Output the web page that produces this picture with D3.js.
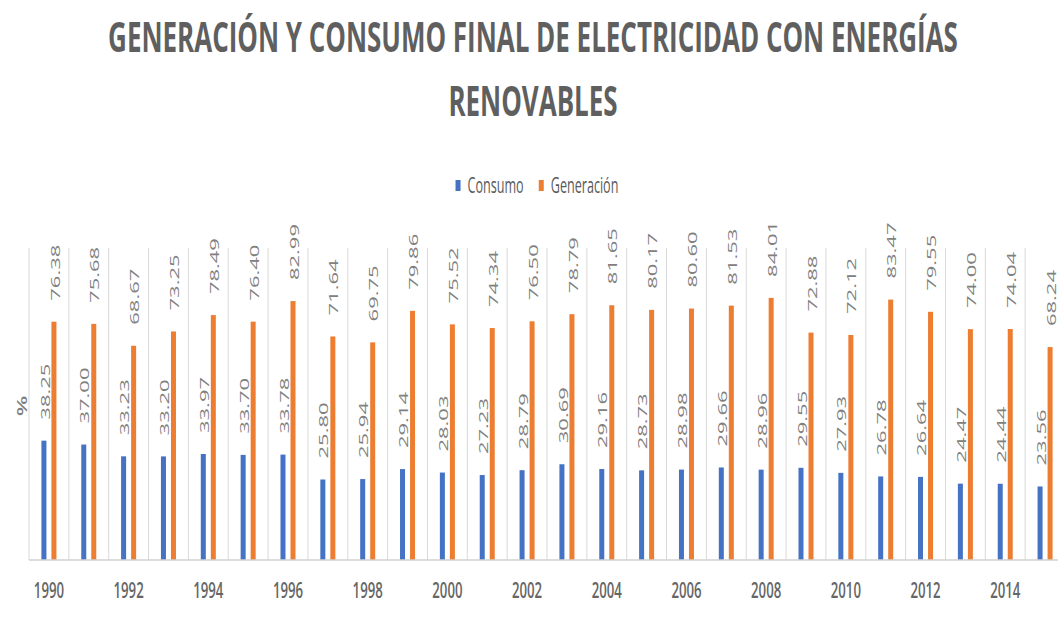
<!DOCTYPE html>
<html>
<head>
<meta charset="utf-8">
<script src="https://cdn.jsdelivr.net/npm/d3@7"></script>
<style>
  body { margin: 0; background: #fff; }
  svg { display: block; }
  text { font-family: "Open Sans", sans-serif; }
</style>
</head>
<body>
<svg id="chart" width="1058" height="617"></svg>
<script>
const years = ["1990","1991","1992","1993","1994","1995","1996","1997","1998","1999",
  "2000","2001","2002","2003","2004","2005","2006","2007","2008","2009",
  "2010","2011","2012","2013","2014","2015"];
const consumo = [38.25, 37.00, 33.23, 33.20, 33.97, 33.70, 33.78, 25.80, 25.94, 29.14,
  28.03, 27.23, 28.79, 30.69, 29.16, 28.73, 28.98, 29.66, 28.96, 29.55,
  27.93, 26.78, 26.64, 24.47, 24.44, 23.56];
const generacion = [76.38, 75.68, 68.67, 73.25, 78.49, 76.40, 82.99, 71.64, 69.75, 79.86,
  75.52, 74.34, 76.50, 78.79, 81.65, 80.17, 80.60, 81.53, 84.01, 72.88,
  72.12, 83.47, 79.55, 74.00, 74.04, 68.24];
const seriesNames = ["Consumo", "Generación"];
const seriesColors = ["#4472C4", "#ED7D31"];
const tickYears = ["1990","1992","1994","1996","1998","2000","2002","2004","2006","2008","2010","2012","2014"];
const titleLines = ["GENERACIÓN Y CONSUMO FINAL DE ELECTRICIDAD CON ENERGÍAS", "RENOVABLES"];
const yTitle = "%";

const svg = d3.select("#chart");
const squeeze = 0.6;   // the picture is squashed sideways, so is the text

const x0 = d3.scaleBand()
    .domain(years)
    .range([29, 1065])
    .padding(0);
const x1 = d3.scaleBand()
    .domain(seriesNames)
    .range([0, x0.bandwidth()])
    .paddingInner(0.5)
    .paddingOuter(1.24);
const y = d3.scaleLinear()
    .domain([0, 100])
    .range([560, 248]);

const rows = years.map((yr, i) => ({year: yr, values: [consumo[i], generacion[i]]}));

// title
const title = svg.append("g").attr("class", "title");
title.selectAll("text")
  .data(titleLines)
  .join("text")
    .attr("text-anchor", "middle")
    .attr("font-weight", 700)
    .attr("font-size", 42)
    .attr("fill", "#5f5f5f")
    .text(d => d);
const w1 = title.select("text").node().getComputedTextLength();
const titleScale = 850 / w1;
title.selectAll("text")
    .attr("transform", (d, i) => "translate(533," + (52 + i * 64) + ") scale(" + titleScale + ",1)");

// legend
const legend = svg.append("g").attr("class", "legend");
let lx = 0;
seriesNames.forEach((name, i) => {
  const item = legend.append("g").attr("transform", "translate(" + lx + ",0)");
  item.append("rect")
      .attr("x", 0).attr("y", -6)
      .attr("width", 5).attr("height", 11)
      .attr("fill", seriesColors[i]);
  const t = item.append("text")
      .attr("font-size", 21)
      .attr("fill", "#595959")
      .attr("dy", "0.35em")
      .text(name);
  const tw = t.node().getComputedTextLength() * squeeze;
  t.attr("transform", "translate(12,0) scale(" + squeeze + ",1)");
  lx += 12 + tw + 15;
});
legend.attr("transform", "translate(" + (537 - (lx - 15) / 2) + ",186)");

// vertical gridlines between categories
const gridX = years.map(d => x0(d)).concat([x0.range()[1]]);
svg.append("g").attr("class", "grid")
  .selectAll("line")
  .data(gridX)
  .join("line")
    .attr("x1", d => d).attr("x2", d => d)
    .attr("y1", y(100)).attr("y2", y(0))
    .attr("stroke", "#d9d9d9")
    .attr("stroke-width", 1);

// bars
const groups = svg.append("g").attr("class", "bars")
  .selectAll("g")
  .data(rows)
  .join("g")
    .attr("transform", d => "translate(" + x0(d.year) + ",0)");

groups.selectAll("rect")
  .data(d => d.values.map((v, i) => ({name: seriesNames[i], value: v, color: seriesColors[i]})))
  .join("rect")
    .attr("x", d => x1(d.name))
    .attr("y", d => y(d.value))
    .attr("width", x1.bandwidth())
    .attr("height", d => y(0) - y(d.value))
    .attr("fill", d => d.color);

// data labels, turned upright
groups.selectAll("text")
  .data(d => d.values.map((v, i) => ({name: seriesNames[i], value: v})))
  .join("text")
    .attr("transform", d => "translate(" + (x1(d.name) + x1.bandwidth() / 2 + 1) + "," + (y(d.value) - 21) + ") rotate(-90) scale(1," + squeeze + ")")
    .attr("text-anchor", "start")
    .attr("dy", "0.35em")
    .attr("font-size", 22)
    .attr("fill", "#808080")
    .text(d => d.value.toFixed(2));

// baseline
svg.append("line")
    .attr("x1", x0.range()[0]).attr("x2", x0.range()[1])
    .attr("y1", y(0)).attr("y2", y(0))
    .attr("stroke", "#d0d0d0")
    .attr("stroke-width", 1.5);

// x axis labels
const xAxis = d3.axisBottom(x0)
    .tickValues(tickYears)
    .tickSize(0)
    .tickPadding(22);
const gx = svg.append("g")
    .attr("transform", "translate(0," + y(0) + ")")
    .call(xAxis);
gx.select(".domain").remove();
gx.selectAll("text")
    .attr("font-family", "Open Sans, sans-serif")
    .attr("font-size", 22)
    .attr("font-weight", 600)
    .attr("fill", "#666666")
    .attr("transform", "scale(" + squeeze + ",1)");

// y axis title
svg.append("text")
    .attr("transform", "translate(22,406) rotate(-90) scale(1," + squeeze + ")")
    .attr("text-anchor", "middle")
    .attr("dy", "0.35em")
    .attr("font-size", 24)
    .attr("font-weight", 600)
    .attr("fill", "#808080")
    .text(yTitle);
</script>
</body>
</html>
